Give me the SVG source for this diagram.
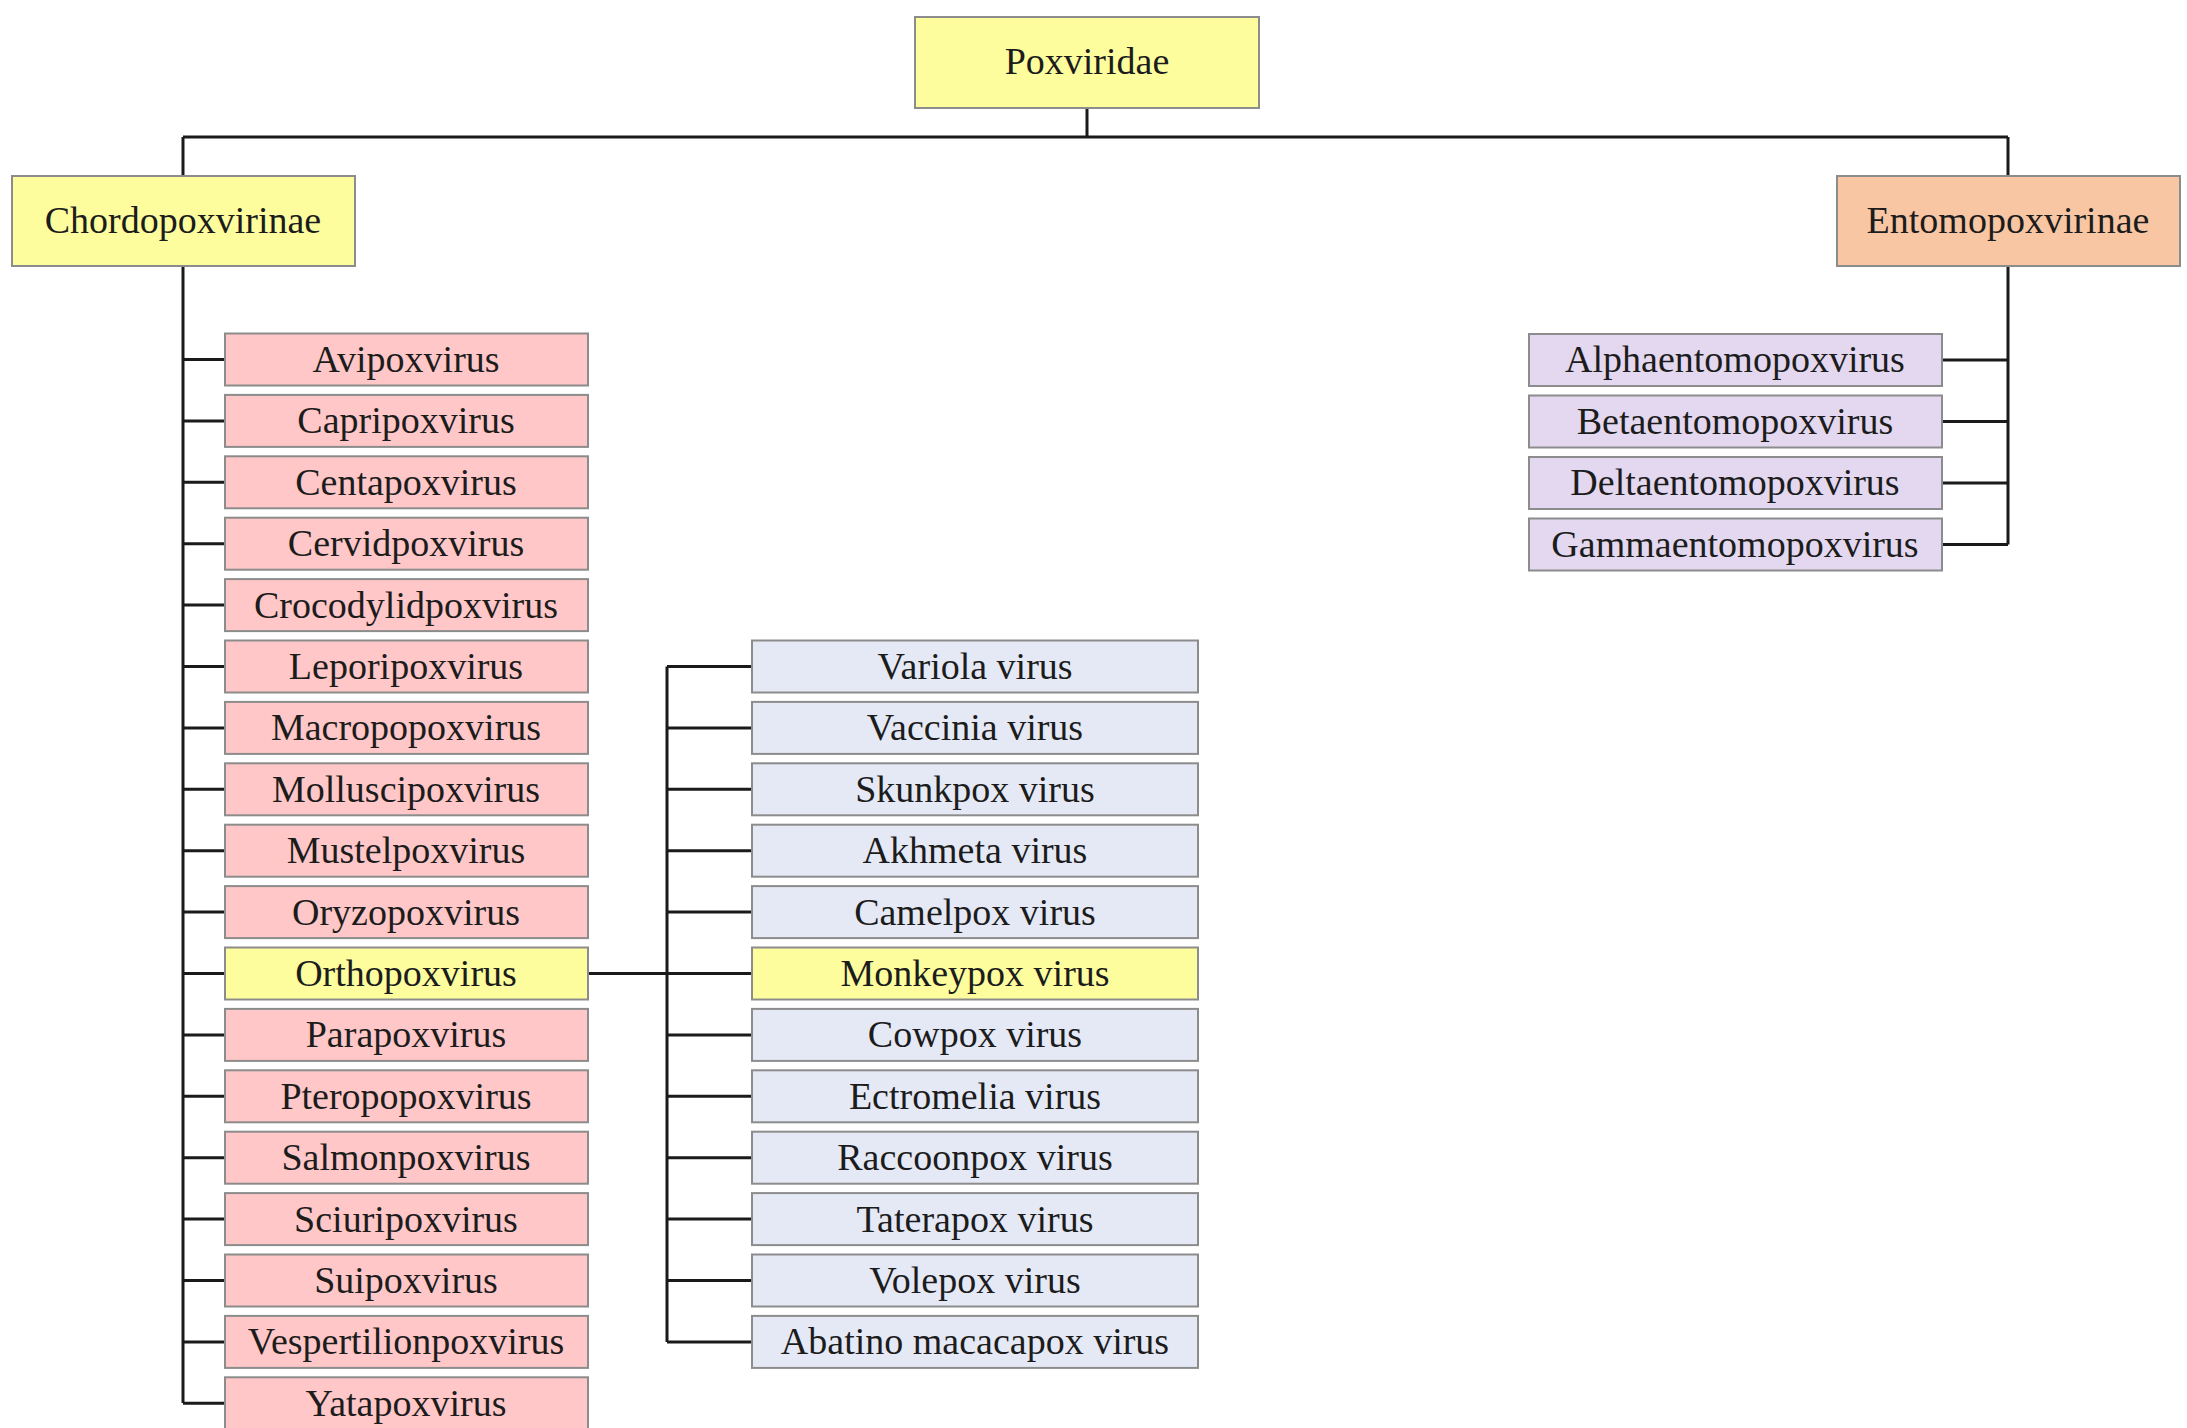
<svg xmlns="http://www.w3.org/2000/svg" width="2187" height="1428" viewBox="0 0 2187 1428">
<style>
.box{stroke:#8c8c8c;stroke-width:2}
.yel{fill:#fdfd9e}
.pink{fill:#ffc7c7}
.blue{fill:#e5e9f6}
.lav{fill:#e3d8ef}
.org{fill:#f9c6a4}
text{font-family:"Liberation Serif","Times New Roman",serif;font-size:38px;fill:#1c1c1c;text-anchor:middle}
.ln{stroke:#1a1a1a;stroke-width:3;fill:none}
</style>
<rect width="2187" height="1428" fill="#ffffff"/>
<g id="connectors" class="ln">
<path d="M1087 108V137M183 137H2008M183 137V176M2008 137V176"/>
<path d="M183 266V1403"/>
<path d="M183 359.5H224M183 420.9H224M183 482.3H224M183 543.7H224M183 605.1H224M183 666.5H224M183 727.9H224M183 789.3H224M183 850.7H224M183 912.1H224M183 973.5H224M183 1034.9H224M183 1096.3H224M183 1157.7H224M183 1219.1H224M183 1280.5H224M183 1341.9H224M183 1403.3H224"/>
<path d="M588 973.5H667M667 666.5V1341.9"/>
<path d="M667 666.5H752M667 727.9H752M667 789.3H752M667 850.7H752M667 912.1H752M667 973.5H752M667 1034.9H752M667 1096.3H752M667 1157.7H752M667 1219.1H752M667 1280.5H752M667 1341.9H752"/>
<path d="M2008 266V544.5M1942 360H2008M1942 421.5H2008M1942 483H2008M1942 544.5H2008"/>
</g>
<g id="n-poxviridae"><rect class="box yel" x="915" y="17" width="344" height="91"/><text x="1087" y="74">Poxviridae</text></g>
<g id="n-chordopoxvirinae"><rect class="box yel" x="12" y="176" width="343" height="90"/><text x="183" y="233">Chordopoxvirinae</text></g>
<g id="n-entomopoxvirinae"><rect class="box org" x="1837" y="176" width="343" height="90"/><text x="2008" y="233">Entomopoxvirinae</text></g>
<g id="n-alphaentomopoxvirus"><rect class="box lav" x="1529" y="334" width="413" height="52"/><text x="1735" y="372">Alphaentomopoxvirus</text></g>
<g id="n-betaentomopoxvirus"><rect class="box lav" x="1529" y="395.5" width="413" height="52"/><text x="1735" y="433.5">Betaentomopoxvirus</text></g>
<g id="n-deltaentomopoxvirus"><rect class="box lav" x="1529" y="457" width="413" height="52"/><text x="1735" y="495">Deltaentomopoxvirus</text></g>
<g id="n-gammaentomopoxvirus"><rect class="box lav" x="1529" y="518.5" width="413" height="52"/><text x="1735" y="556.5">Gammaentomopoxvirus</text></g>
<g id="n-avipoxvirus"><rect class="box pink" x="225" y="333.5" width="363" height="52"/><text x="406" y="372">Avipoxvirus</text></g>
<g id="n-capripoxvirus"><rect class="box pink" x="225" y="394.9" width="363" height="52"/><text x="406" y="433.4">Capripoxvirus</text></g>
<g id="n-centapoxvirus"><rect class="box pink" x="225" y="456.3" width="363" height="52"/><text x="406" y="494.8">Centapoxvirus</text></g>
<g id="n-cervidpoxvirus"><rect class="box pink" x="225" y="517.7" width="363" height="52"/><text x="406" y="556.2">Cervidpoxvirus</text></g>
<g id="n-crocodylidpoxvirus"><rect class="box pink" x="225" y="579.1" width="363" height="52"/><text x="406" y="617.6">Crocodylidpoxvirus</text></g>
<g id="n-leporipoxvirus"><rect class="box pink" x="225" y="640.5" width="363" height="52"/><text x="406" y="679">Leporipoxvirus</text></g>
<g id="n-macropopoxvirus"><rect class="box pink" x="225" y="701.9" width="363" height="52"/><text x="406" y="740.4">Macropopoxvirus</text></g>
<g id="n-molluscipoxvirus"><rect class="box pink" x="225" y="763.3" width="363" height="52"/><text x="406" y="801.8">Molluscipoxvirus</text></g>
<g id="n-mustelpoxvirus"><rect class="box pink" x="225" y="824.7" width="363" height="52"/><text x="406" y="863.2">Mustelpoxvirus</text></g>
<g id="n-oryzopoxvirus"><rect class="box pink" x="225" y="886.1" width="363" height="52"/><text x="406" y="924.6">Oryzopoxvirus</text></g>
<g id="n-orthopoxvirus"><rect class="box yel" x="225" y="947.5" width="363" height="52"/><text x="406" y="986">Orthopoxvirus</text></g>
<g id="n-parapoxvirus"><rect class="box pink" x="225" y="1008.9" width="363" height="52"/><text x="406" y="1047.4">Parapoxvirus</text></g>
<g id="n-pteropopoxvirus"><rect class="box pink" x="225" y="1070.3" width="363" height="52"/><text x="406" y="1108.8">Pteropopoxvirus</text></g>
<g id="n-salmonpoxvirus"><rect class="box pink" x="225" y="1131.7" width="363" height="52"/><text x="406" y="1170.2">Salmonpoxvirus</text></g>
<g id="n-sciuripoxvirus"><rect class="box pink" x="225" y="1193.1" width="363" height="52"/><text x="406" y="1231.6">Sciuripoxvirus</text></g>
<g id="n-suipoxvirus"><rect class="box pink" x="225" y="1254.5" width="363" height="52"/><text x="406" y="1293">Suipoxvirus</text></g>
<g id="n-vespertilionpoxvirus"><rect class="box pink" x="225" y="1315.9" width="363" height="52"/><text x="406" y="1354.4">Vespertilionpoxvirus</text></g>
<g id="n-yatapoxvirus"><rect class="box pink" x="225" y="1377.3" width="363" height="52"/><text x="406" y="1415.8">Yatapoxvirus</text></g>
<g id="n-variola"><rect class="box blue" x="752" y="640.5" width="446" height="52"/><text x="975" y="679">Variola virus</text></g>
<g id="n-vaccinia"><rect class="box blue" x="752" y="701.9" width="446" height="52"/><text x="975" y="740.4">Vaccinia virus</text></g>
<g id="n-skunkpox"><rect class="box blue" x="752" y="763.3" width="446" height="52"/><text x="975" y="801.8">Skunkpox virus</text></g>
<g id="n-akhmeta"><rect class="box blue" x="752" y="824.7" width="446" height="52"/><text x="975" y="863.2">Akhmeta virus</text></g>
<g id="n-camelpox"><rect class="box blue" x="752" y="886.1" width="446" height="52"/><text x="975" y="924.6">Camelpox virus</text></g>
<g id="n-monkeypox"><rect class="box yel" x="752" y="947.5" width="446" height="52"/><text x="975" y="986">Monkeypox virus</text></g>
<g id="n-cowpox"><rect class="box blue" x="752" y="1008.9" width="446" height="52"/><text x="975" y="1047.4">Cowpox virus</text></g>
<g id="n-ectromelia"><rect class="box blue" x="752" y="1070.3" width="446" height="52"/><text x="975" y="1108.8">Ectromelia virus</text></g>
<g id="n-raccoonpox"><rect class="box blue" x="752" y="1131.7" width="446" height="52"/><text x="975" y="1170.2">Raccoonpox virus</text></g>
<g id="n-taterapox"><rect class="box blue" x="752" y="1193.1" width="446" height="52"/><text x="975" y="1231.6">Taterapox virus</text></g>
<g id="n-volepox"><rect class="box blue" x="752" y="1254.5" width="446" height="52"/><text x="975" y="1293">Volepox virus</text></g>
<g id="n-abatino"><rect class="box blue" x="752" y="1315.9" width="446" height="52"/><text x="975" y="1354.4">Abatino macacapox virus</text></g>
</svg>
